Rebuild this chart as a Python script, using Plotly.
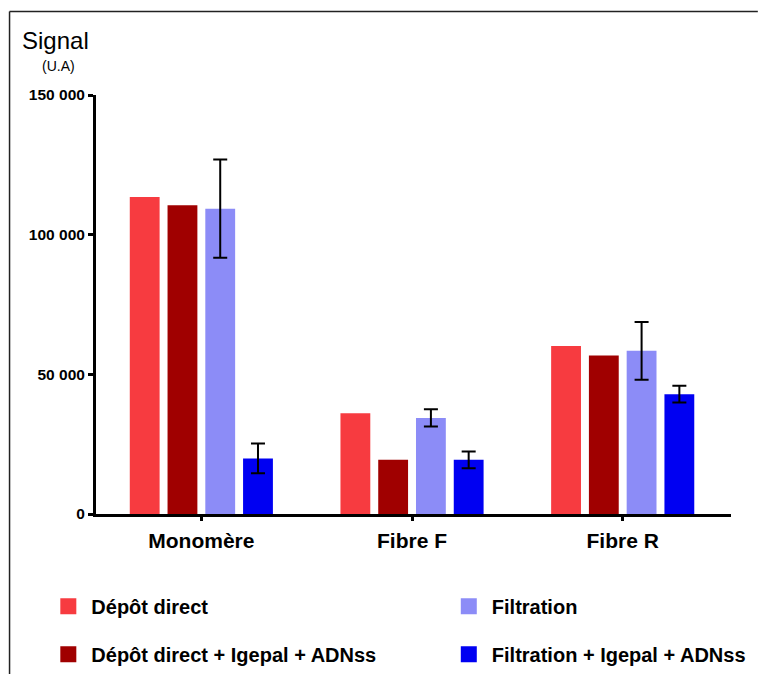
import plotly.graph_objects as go

categories = ["Monomère", "Fibre F", "Fibre R"]
series_names = ["Dépôt direct", "Dépôt direct + Igepal + ADNss", "Filtration", "Filtration + Igepal + ADNss"]
depot_direct = [113500, 36100, 60100]
depot_igepal = [110500, 19400, 56700]
filtration = [109300, 34400, 58400]
filtration_err = [17600, 3100, 10300]
filtration_igepal = [19900, 19400, 42900]
filtration_igepal_err = [5300, 3000, 3000]
colors = ["#F73B40", "#A00000", "#8C8CF7", "#0000F2"]
ytick_vals = [0, 50000, 100000, 150000]
ytick_text = ["0", "50 000", "100 000", "150 000"]

values = [depot_direct, depot_igepal, filtration, filtration_igepal]
errors = [None, None, filtration_err, filtration_igepal_err]

W, H = 763, 686
PL, PT, PW, PH = 96, 95, 639, 427  # plot area in window pixels


def px(x):
    return (x - PL) / PW


def py(y):
    return (PT + PH - y) / PH


fig = go.Figure()
for name, vals, err, col in zip(series_names, values, errors, colors):
    fig.add_trace(go.Bar(
        x=categories, y=vals, name=name, marker=dict(color=col, line=dict(width=0)),
        error_y=(dict(type="data", array=err, visible=True, color="black", thickness=2, width=7)
                 if err is not None else None),
        showlegend=False,
    ))

legend_ids = ["legend", "legend2", "legend3", "legend4"]
legend_pos = [(px(45), py(616)), (px(45), py(665)), (px(448), py(616)), (px(448), py(665))]
for name, col, lg in zip(series_names, colors, legend_ids):
    fig.add_trace(go.Scatter(
        x=[None], y=[None], mode="markers", name=name, legend=lg,
        marker=dict(symbol="square", size=18, color=col), showlegend=True,
    ))

font_family = "Arial, Liberation Sans, sans-serif"
legends = {}
for lg, (lx, ly) in zip(legend_ids, legend_pos):
    legends[lg] = dict(
        x=lx, y=ly, orientation="h", xanchor="left", yanchor="middle",
        font=dict(family=font_family, size=20, color="black", weight="bold"),
        bgcolor="rgba(0,0,0,0)", itemsizing="trace", itemwidth=36,
    )

fig.update_layout(
    width=W, height=H,
    margin=dict(l=PL, r=W - PL - PW, t=PT, b=H - PT - PH),
    paper_bgcolor="white", plot_bgcolor="white",
    barmode="group", bargap=0.283, bargroupgap=0.21,
    font=dict(family=font_family, color="black"),
    xaxis=dict(
        range=[-0.5, 2.514], showline=True, linecolor="black", linewidth=3,
        ticks="outside", ticklen=4, tickwidth=3, tickcolor="black", ticklabelstandoff=2,
        tickfont=dict(size=21, weight="bold", color="black"), showgrid=False, zeroline=False,
    ),
    yaxis=dict(
        range=[0, 150000], showline=True, linecolor="black", linewidth=3,
        ticks="outside", ticklen=5, tickwidth=3, tickcolor="black",
        tickvals=ytick_vals, ticktext=ytick_text,
        tickfont=dict(size=15.5, weight="bold", color="black"), showgrid=False, zeroline=False,
    ),
    annotations=[
        dict(text="Signal", xref="paper", yref="paper", x=px(20), y=py(39),
             xanchor="left", yanchor="middle", showarrow=False,
             font=dict(size=24, color="black")),
        dict(text="(U.A)", xref="paper", yref="paper", x=px(58), y=py(65),
             xanchor="center", yanchor="middle", showarrow=False,
             font=dict(size=14, color="black")),
    ],
    shapes=[
        dict(type="line", xref="paper", yref="paper", x0=px(9), x1=px(762),
             y0=py(10), y1=py(10), line=dict(color="#222", width=1.5)),
        dict(type="line", xref="paper", yref="paper", x0=px(9), x1=px(9),
             y0=py(10), y1=py(685), line=dict(color="#222", width=1.5)),
    ],
    **legends,
)

fig.write_html(
    "out.html",
    config={"displayModeBar": False},
    post_script=(
        "document.documentElement.style.margin='0';document.body.style.margin='0';"
        "document.body.style.overflow='hidden';document.documentElement.style.overflow='hidden';"
        "var gd=document.getElementById('{plot_id}');"
        "gd.style.position='fixed';gd.style.top='0px';gd.style.left='0px';"
    ),
)
